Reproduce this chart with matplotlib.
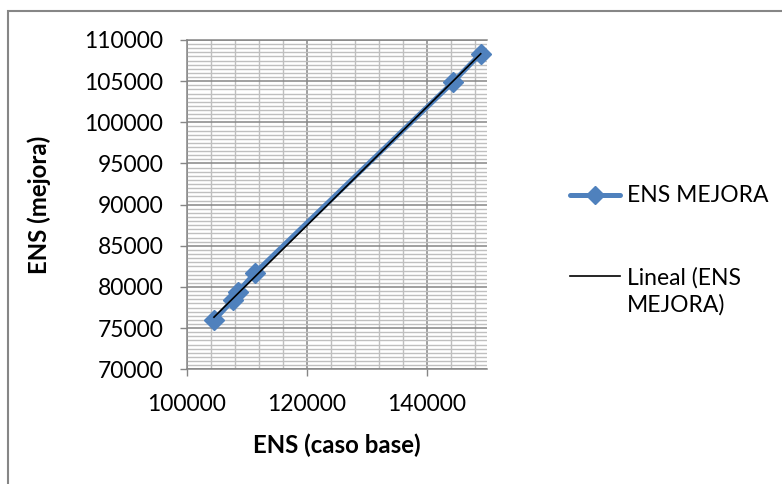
import numpy as np
import matplotlib
matplotlib.use("Agg")
import matplotlib.pyplot as plt
from matplotlib.lines import Line2D
from matplotlib.patches import Rectangle
from matplotlib.ticker import MultipleLocator

plt.rcParams['font.family'] = ['Lato', 'DejaVu Sans']

# ENS base case vs. ENS with improvement
ens_base = [104500, 107650, 108450, 111400, 144350, 148950]
ens_mejora = [75950, 78400, 79400, 81750, 104900, 108350]

series_label = "ENS MEJORA"
trend_label = "Lineal (ENS\nMEJORA)"
x_label = "ENS (caso base)"
y_label = "ENS (mejora)"

W, H = 782, 484
fig = plt.figure(figsize=(W / 100, H / 100), dpi=100)
ax = fig.add_axes([187 / W, 1 - 369.3 / H, 300 / W, (369.3 - 40) / H])

blue = "#4F81BD"
major_c = "#868686"
minor_c = "#BFBFBF"

ax.set_xlim(100000, 150000)
ax.set_ylim(70000, 110000)
ax.xaxis.set_major_locator(MultipleLocator(20000))
ax.xaxis.set_minor_locator(MultipleLocator(4000))
ax.yaxis.set_major_locator(MultipleLocator(5000))
ax.yaxis.set_minor_locator(MultipleLocator(500))

ax.grid(which='minor', color=minor_c, lw=1.0, zorder=0)
ax.grid(which='major', color=major_c, lw=1.1, zorder=0)
ax.set_axisbelow(True)

ax.tick_params(which='minor', length=0)
ax.tick_params(which='major', length=5, width=1, color=major_c,
               labelsize=16.5, labelcolor='black')
ax.tick_params(axis='y', pad=12)
ax.tick_params(axis='x', pad=13)

ax.spines['right'].set_visible(False)
for side in ('top', 'left', 'bottom'):
    ax.spines[side].set_color(major_c)
    ax.spines[side].set_linewidth(1.1)

ax.plot(ens_base, ens_mejora, color=blue, lw=3.6, marker='D', ms=10,
        solid_capstyle='round', zorder=3, clip_on=False)

# linear trend line over the data range
coef = np.polyfit(ens_base, ens_mejora, 1)
xt = np.array([min(ens_base), max(ens_base)])
ax.plot(xt, np.polyval(coef, xt), color='black', lw=1.2, zorder=4, clip_on=False)

ax.set_xlabel(x_label, fontsize=17.3, fontweight='bold', labelpad=13)
ax.set_ylabel(y_label, fontsize=17.3, fontweight='bold', labelpad=24)

# legend, drawn in figure pixel coordinates
def fx(px):
    return px / W

def fy(py):
    return 1 - py / H

fig.add_artist(Line2D([fx(570), fx(620)], [fy(195), fy(195)], color=blue, lw=3.6,
                      solid_capstyle='round', transform=fig.transFigure))
fig.add_artist(Line2D([fx(595)], [fy(195)], color=blue, marker='D', ms=9,
                      transform=fig.transFigure))
fig.text(fx(627), fy(196), series_label, fontsize=16.5, va='center', ha='left')

fig.add_artist(Line2D([fx(570), fx(620)], [fy(276), fy(276)], color='black', lw=1.2,
                      transform=fig.transFigure))
fig.text(fx(627), fy(291), trend_label, fontsize=16.5, va='center', ha='left',
         linespacing=1.3)

# chart area border
fig.patches.append(Rectangle((8 / W, -0.1), 1.0, 1 - 11 / H + 0.1,
                             transform=fig.transFigure, fill=False,
                             edgecolor=major_c, lw=1.5))

fig.savefig("out.png", dpi=100)
